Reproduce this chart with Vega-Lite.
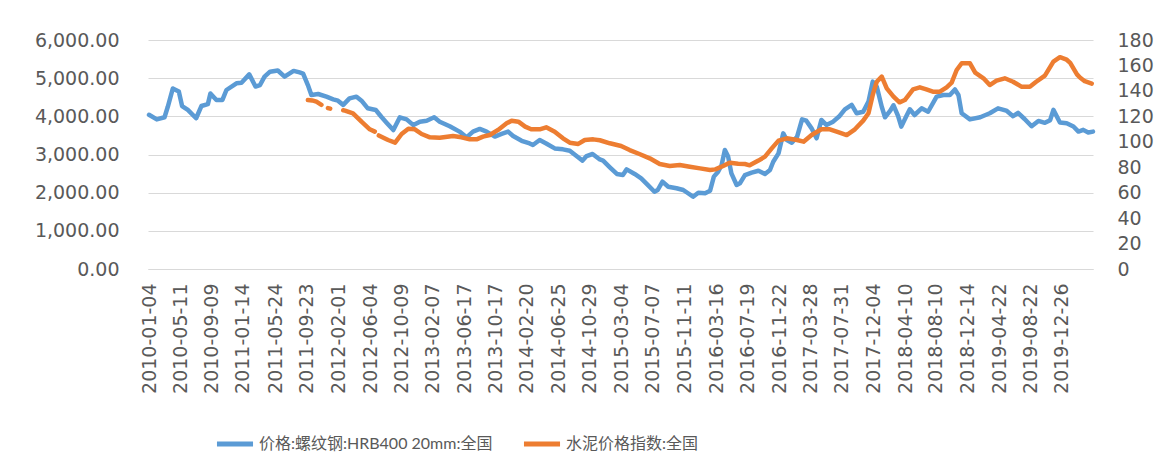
{
  "$schema": "https://vega.github.io/schema/vega-lite/v6.json",
  "width": 945,
  "height": 229,
  "autosize": {"type": "none"},
  "padding": {"left": 148, "top": 40, "right": 78, "bottom": 206},
  "background": "white",
  "config": {
    "view": {"stroke": null},
    "font": "DejaVu Sans",
    "axis": {"labelFont": "DejaVu Sans", "labelFontSize": 19, "labelColor": "#595959", "title": null, "ticks": false, "domain": false}
  },
  "datasets": {
    "steel": [
      {"d": "2010-01-04", "v": 4040}, {"d": "2010-02-04", "v": 3920}, {"d": "2010-03-07", "v": 3975}, {"d": "2010-03-20", "v": 4250},
      {"d": "2010-04-09", "v": 4730}, {"d": "2010-05-03", "v": 4650}, {"d": "2010-05-16", "v": 4270}, {"d": "2010-06-08", "v": 4170},
      {"d": "2010-07-11", "v": 3950}, {"d": "2010-08-01", "v": 4270}, {"d": "2010-08-27", "v": 4320}, {"d": "2010-09-06", "v": 4600},
      {"d": "2010-09-30", "v": 4430}, {"d": "2010-10-24", "v": 4430}, {"d": "2010-11-09", "v": 4690}, {"d": "2010-12-19", "v": 4865},
      {"d": "2011-01-08", "v": 4880}, {"d": "2011-02-08", "v": 5100}, {"d": "2011-03-05", "v": 4780}, {"d": "2011-03-23", "v": 4820},
      {"d": "2011-04-10", "v": 5040}, {"d": "2011-05-02", "v": 5170}, {"d": "2011-06-02", "v": 5200}, {"d": "2011-06-29", "v": 5040},
      {"d": "2011-08-04", "v": 5190}, {"d": "2011-08-28", "v": 5150}, {"d": "2011-09-11", "v": 5120}, {"d": "2011-09-30", "v": 4820},
      {"d": "2011-10-14", "v": 4560}, {"d": "2011-11-10", "v": 4585}, {"d": "2011-12-13", "v": 4515}, {"d": "2012-01-09", "v": 4445},
      {"d": "2012-01-28", "v": 4410}, {"d": "2012-02-18", "v": 4300}, {"d": "2012-03-14", "v": 4470}, {"d": "2012-04-11", "v": 4515},
      {"d": "2012-05-01", "v": 4410}, {"d": "2012-05-26", "v": 4210}, {"d": "2012-06-27", "v": 4165}, {"d": "2012-07-19", "v": 3990},
      {"d": "2012-08-09", "v": 3835}, {"d": "2012-09-05", "v": 3640}, {"d": "2012-10-01", "v": 3975}, {"d": "2012-10-28", "v": 3920},
      {"d": "2012-11-24", "v": 3770}, {"d": "2012-12-20", "v": 3860}, {"d": "2013-01-16", "v": 3885}, {"d": "2013-02-15", "v": 3975},
      {"d": "2013-03-09", "v": 3860}, {"d": "2013-04-18", "v": 3740}, {"d": "2013-05-27", "v": 3600}, {"d": "2013-06-24", "v": 3450},
      {"d": "2013-07-20", "v": 3600}, {"d": "2013-08-16", "v": 3670}, {"d": "2013-09-12", "v": 3600}, {"d": "2013-10-15", "v": 3470},
      {"d": "2013-11-11", "v": 3540}, {"d": "2013-12-07", "v": 3600}, {"d": "2013-12-27", "v": 3485}, {"d": "2014-01-30", "v": 3360},
      {"d": "2014-03-03", "v": 3290}, {"d": "2014-03-16", "v": 3250}, {"d": "2014-04-12", "v": 3380}, {"d": "2014-05-08", "v": 3290},
      {"d": "2014-06-11", "v": 3160}, {"d": "2014-07-14", "v": 3135}, {"d": "2014-08-10", "v": 3100}, {"d": "2014-09-06", "v": 2960},
      {"d": "2014-09-30", "v": 2840}, {"d": "2014-10-16", "v": 2960}, {"d": "2014-11-09", "v": 3013}, {"d": "2014-12-08", "v": 2870},
      {"d": "2014-12-21", "v": 2840}, {"d": "2015-01-17", "v": 2665}, {"d": "2015-02-14", "v": 2490}, {"d": "2015-03-10", "v": 2465},
      {"d": "2015-03-25", "v": 2610}, {"d": "2015-04-26", "v": 2490}, {"d": "2015-05-22", "v": 2375}, {"d": "2015-06-18", "v": 2200},
      {"d": "2015-07-14", "v": 2025}, {"d": "2015-07-27", "v": 2070}, {"d": "2015-08-15", "v": 2290}, {"d": "2015-09-07", "v": 2155},
      {"d": "2015-10-10", "v": 2115}, {"d": "2015-11-06", "v": 2070}, {"d": "2015-11-25", "v": 1985}, {"d": "2015-12-15", "v": 1895},
      {"d": "2016-01-05", "v": 2000}, {"d": "2016-02-01", "v": 1985}, {"d": "2016-02-21", "v": 2050}, {"d": "2016-03-07", "v": 2420},
      {"d": "2016-03-24", "v": 2550}, {"d": "2016-04-07", "v": 2725}, {"d": "2016-04-20", "v": 3120}, {"d": "2016-05-03", "v": 2945},
      {"d": "2016-05-16", "v": 2505}, {"d": "2016-06-06", "v": 2200}, {"d": "2016-06-19", "v": 2245}, {"d": "2016-07-09", "v": 2460},
      {"d": "2016-08-05", "v": 2525}, {"d": "2016-09-01", "v": 2575}, {"d": "2016-09-27", "v": 2490}, {"d": "2016-10-17", "v": 2595},
      {"d": "2016-10-30", "v": 2810}, {"d": "2016-11-20", "v": 3030}, {"d": "2016-12-09", "v": 3555}, {"d": "2016-12-23", "v": 3380},
      {"d": "2017-01-12", "v": 3310}, {"d": "2017-02-02", "v": 3465}, {"d": "2017-02-22", "v": 3920}, {"d": "2017-03-11", "v": 3885},
      {"d": "2017-04-01", "v": 3685}, {"d": "2017-04-21", "v": 3425}, {"d": "2017-05-10", "v": 3905}, {"d": "2017-05-30", "v": 3775},
      {"d": "2017-06-26", "v": 3860}, {"d": "2017-07-22", "v": 4010}, {"d": "2017-08-12", "v": 4185}, {"d": "2017-09-08", "v": 4300},
      {"d": "2017-09-28", "v": 4080}, {"d": "2017-10-24", "v": 4120}, {"d": "2017-11-14", "v": 4385}, {"d": "2017-12-01", "v": 4910},
      {"d": "2017-12-17", "v": 4780}, {"d": "2018-01-06", "v": 4250}, {"d": "2018-01-19", "v": 3975}, {"d": "2018-02-09", "v": 4150},
      {"d": "2018-02-22", "v": 4290}, {"d": "2018-03-12", "v": 4010}, {"d": "2018-03-25", "v": 3730}, {"d": "2018-04-12", "v": 3975},
      {"d": "2018-04-28", "v": 4185}, {"d": "2018-05-17", "v": 4035}, {"d": "2018-06-14", "v": 4210}, {"d": "2018-07-10", "v": 4120},
      {"d": "2018-08-13", "v": 4515}, {"d": "2018-09-09", "v": 4560}, {"d": "2018-10-05", "v": 4560}, {"d": "2018-10-25", "v": 4705},
      {"d": "2018-11-08", "v": 4560}, {"d": "2018-11-21", "v": 4080}, {"d": "2018-12-24", "v": 3920}, {"d": "2019-02-03", "v": 3975},
      {"d": "2019-03-13", "v": 4080}, {"d": "2019-04-15", "v": 4210}, {"d": "2019-05-18", "v": 4150}, {"d": "2019-06-14", "v": 4005},
      {"d": "2019-07-04", "v": 4090}, {"d": "2019-07-30", "v": 3930}, {"d": "2019-08-27", "v": 3740}, {"d": "2019-09-23", "v": 3880},
      {"d": "2019-10-19", "v": 3830}, {"d": "2019-11-09", "v": 3900}, {"d": "2019-11-22", "v": 4170}, {"d": "2019-12-18", "v": 3840},
      {"d": "2020-01-14", "v": 3820}, {"d": "2020-02-10", "v": 3735}, {"d": "2020-03-01", "v": 3600}, {"d": "2020-03-20", "v": 3645},
      {"d": "2020-04-09", "v": 3575}, {"d": "2020-04-28", "v": 3600}
    ],
    "cement": [
      {"d": "2011-09-30", "v": 132.8}, {"d": "2011-10-17", "v": 132.5}, {"d": "2011-11-03", "v": 131.5}, {"d": "2011-11-23", "v": 129},
      {"d": "2011-12-05", "v": null},
      {"d": "2011-12-19", "v": 126.5}, {"d": "2011-12-28", "v": 126},
      {"d": "2012-01-20", "v": null},
      {"d": "2012-02-18", "v": 124.8}, {"d": "2012-02-25", "v": 124.5}, {"d": "2012-03-28", "v": 122.4}, {"d": "2012-05-01", "v": 115.8},
      {"d": "2012-06-03", "v": 109.8}, {"d": "2012-06-23", "v": 108},
      {"d": "2012-07-01", "v": null},
      {"d": "2012-07-09", "v": 105}, {"d": "2012-08-15", "v": 101.4}, {"d": "2012-09-12", "v": 99.3}, {"d": "2012-10-08", "v": 106.1},
      {"d": "2012-11-04", "v": 110.3}, {"d": "2012-11-30", "v": 109.8}, {"d": "2012-12-27", "v": 106.1}, {"d": "2013-01-29", "v": 103.5},
      {"d": "2013-03-09", "v": 103.2}, {"d": "2013-05-01", "v": 104.5}, {"d": "2013-06-04", "v": 103.5}, {"d": "2013-07-07", "v": 101.9},
      {"d": "2013-08-03", "v": 101.9}, {"d": "2013-08-29", "v": 104}, {"d": "2013-09-25", "v": 105.3}, {"d": "2013-10-28", "v": 109.3},
      {"d": "2013-12-01", "v": 114.5}, {"d": "2013-12-21", "v": 116.6}, {"d": "2014-01-17", "v": 115.8}, {"d": "2014-02-13", "v": 111.9},
      {"d": "2014-03-09", "v": 109.8}, {"d": "2014-04-12", "v": 109.8}, {"d": "2014-05-08", "v": 111.4}, {"d": "2014-06-11", "v": 107.9},
      {"d": "2014-07-14", "v": 102.7}, {"d": "2014-08-10", "v": 99.3}, {"d": "2014-09-13", "v": 98.3}, {"d": "2014-10-09", "v": 101.4},
      {"d": "2014-11-12", "v": 101.9}, {"d": "2014-12-08", "v": 101.2}, {"d": "2015-01-17", "v": 98.8}, {"d": "2015-03-03", "v": 96.7},
      {"d": "2015-04-06", "v": 93.5}, {"d": "2015-05-15", "v": 90.4}, {"d": "2015-06-25", "v": 87}, {"d": "2015-08-04", "v": 82.5},
      {"d": "2015-09-13", "v": 81}, {"d": "2015-10-23", "v": 81.7}, {"d": "2015-12-02", "v": 80.4}, {"d": "2016-01-12", "v": 79.1},
      {"d": "2016-02-21", "v": 77.8}, {"d": "2016-03-13", "v": 78.3}, {"d": "2016-04-13", "v": 81}, {"d": "2016-05-10", "v": 83.6},
      {"d": "2016-06-12", "v": 82.8}, {"d": "2016-07-09", "v": 82.5}, {"d": "2016-07-28", "v": 81.5}, {"d": "2016-09-01", "v": 85.2},
      {"d": "2016-09-27", "v": 88.3}, {"d": "2016-10-24", "v": 94.8}, {"d": "2016-11-20", "v": 100.9}, {"d": "2016-12-23", "v": 102.7},
      {"d": "2017-02-02", "v": 101.4}, {"d": "2017-02-28", "v": 100.1}, {"d": "2017-04-01", "v": 105.3}, {"d": "2017-05-10", "v": 109.8},
      {"d": "2017-06-13", "v": 109.8}, {"d": "2017-07-22", "v": 107.2}, {"d": "2017-08-19", "v": 105.3}, {"d": "2017-09-21", "v": 109.8},
      {"d": "2017-10-24", "v": 116.6}, {"d": "2017-11-14", "v": 122.4}, {"d": "2017-12-01", "v": 136.8}, {"d": "2017-12-17", "v": 147.2},
      {"d": "2018-01-06", "v": 151.2}, {"d": "2018-01-26", "v": 142}, {"d": "2018-02-22", "v": 135.5}, {"d": "2018-03-18", "v": 131},
      {"d": "2018-04-08", "v": 132.8}, {"d": "2018-05-11", "v": 141.2}, {"d": "2018-06-07", "v": 142.8}, {"d": "2018-07-03", "v": 141.2},
      {"d": "2018-07-29", "v": 139.4}, {"d": "2018-08-26", "v": 139.4}, {"d": "2018-09-22", "v": 142.8}, {"d": "2018-10-12", "v": 146.5},
      {"d": "2018-11-01", "v": 156.4}, {"d": "2018-11-21", "v": 161.7}, {"d": "2018-12-24", "v": 161.7}, {"d": "2019-01-14", "v": 154.3},
      {"d": "2019-02-16", "v": 149.9}, {"d": "2019-03-13", "v": 144.6}, {"d": "2019-04-09", "v": 148}, {"d": "2019-05-12", "v": 149.9},
      {"d": "2019-06-14", "v": 147.2}, {"d": "2019-07-17", "v": 143.3}, {"d": "2019-08-20", "v": 143.3}, {"d": "2019-09-13", "v": 147},
      {"d": "2019-10-19", "v": 152}, {"d": "2019-11-22", "v": 163}, {"d": "2019-12-18", "v": 166.5}, {"d": "2020-01-14", "v": 164.5},
      {"d": "2020-01-28", "v": 162}, {"d": "2020-02-24", "v": 153}, {"d": "2020-03-07", "v": 150.5}, {"d": "2020-03-26", "v": 147.6},
      {"d": "2020-04-23", "v": 145.7}
    ]
  },
  "encoding": {
    "x": {
      "field": "d",
      "type": "temporal",
      "scale": {
        "type": "utc",
        "domain": [
          {"year": 2009, "month": 12, "date": 31, "utc": true},
          {"year": 2020, "month": 4, "date": 28, "utc": true}
        ]
      },
      "axis": {
        "values": [
          {"year": 2010, "month": 1, "date": 4, "utc": true},
          {"year": 2010, "month": 5, "date": 11, "utc": true},
          {"year": 2010, "month": 9, "date": 9, "utc": true},
          {"year": 2011, "month": 1, "date": 14, "utc": true},
          {"year": 2011, "month": 5, "date": 24, "utc": true},
          {"year": 2011, "month": 9, "date": 23, "utc": true},
          {"year": 2012, "month": 2, "date": 1, "utc": true},
          {"year": 2012, "month": 6, "date": 4, "utc": true},
          {"year": 2012, "month": 10, "date": 9, "utc": true},
          {"year": 2013, "month": 2, "date": 7, "utc": true},
          {"year": 2013, "month": 6, "date": 17, "utc": true},
          {"year": 2013, "month": 10, "date": 17, "utc": true},
          {"year": 2014, "month": 2, "date": 20, "utc": true},
          {"year": 2014, "month": 6, "date": 25, "utc": true},
          {"year": 2014, "month": 10, "date": 29, "utc": true},
          {"year": 2015, "month": 3, "date": 4, "utc": true},
          {"year": 2015, "month": 7, "date": 7, "utc": true},
          {"year": 2015, "month": 11, "date": 11, "utc": true},
          {"year": 2016, "month": 3, "date": 16, "utc": true},
          {"year": 2016, "month": 7, "date": 19, "utc": true},
          {"year": 2016, "month": 11, "date": 22, "utc": true},
          {"year": 2017, "month": 3, "date": 28, "utc": true},
          {"year": 2017, "month": 7, "date": 31, "utc": true},
          {"year": 2017, "month": 12, "date": 4, "utc": true},
          {"year": 2018, "month": 4, "date": 10, "utc": true},
          {"year": 2018, "month": 8, "date": 10, "utc": true},
          {"year": 2018, "month": 12, "date": 14, "utc": true},
          {"year": 2019, "month": 4, "date": 22, "utc": true},
          {"year": 2019, "month": 8, "date": 22, "utc": true},
          {"year": 2019, "month": 12, "date": 26, "utc": true}
        ],
        "format": "%Y-%m-%d",
        "labelAngle": -90,
        "labelPadding": 14,
        "grid": false,
        "domain": true,
        "domainColor": "#d9d9d9",
        "domainWidth": 1,
        "labelOverlap": false,
        "labelFlush": false
      }
    }
  },
  "layer": [
    {
      "data": {"name": "steel"},
      "mark": {"type": "line", "strokeWidth": 4.5, "strokeCap": "round", "strokeJoin": "round"},
      "encoding": {
        "y": {
          "field": "v",
          "type": "quantitative",
          "scale": {"domain": [0, 6000], "nice": false, "zero": true},
          "axis": {
            "values": [0, 1000, 2000, 3000, 4000, 5000, 6000],
            "format": ",.2f",
            "grid": true,
            "gridColor": "#d9d9d9",
            "gridWidth": 1,
            "labelPadding": 29
          }
        },
        "color": {
          "datum": "价格:螺纹钢:HRB400 20mm:全国",
          "type": "nominal",
          "scale": {
            "domain": ["价格:螺纹钢:HRB400 20mm:全国", "水泥价格指数:全国"],
            "range": ["#5b9bd5", "#ed7d31"]
          },
          "legend": {
            "orient": "none",
            "legendX": 66,
            "legendY": 383,
            "direction": "horizontal",
            "title": null,
            "symbolType": "stroke",
            "symbolStrokeWidth": 5,
            "symbolSize": 1300,
            "labelFont": "Lato, Noto Sans CJK SC",
            "labelFontSize": 16,
            "labelColor": "#595959",
            "labelLimit": 500,
            "labelOffset": 3,
            "columnPadding": 20,
            "padding": 0
          }
        }
      }
    },
    {
      "data": {"name": "cement"},
      "mark": {"type": "line", "strokeWidth": 4.5, "strokeCap": "round", "strokeJoin": "round", "invalid": "break-paths-filter-domains"},
      "encoding": {
        "y": {
          "field": "v",
          "type": "quantitative",
          "scale": {"domain": [0, 180], "nice": false, "zero": true},
          "axis": {
            "orient": "right",
            "values": [0, 20, 40, 60, 80, 100, 120, 140, 160, 180],
            "grid": false,
            "labelPadding": 24
          }
        },
        "color": {"datum": "水泥价格指数:全国", "type": "nominal"}
      }
    }
  ],
  "resolve": {"scale": {"y": "independent"}}
}
